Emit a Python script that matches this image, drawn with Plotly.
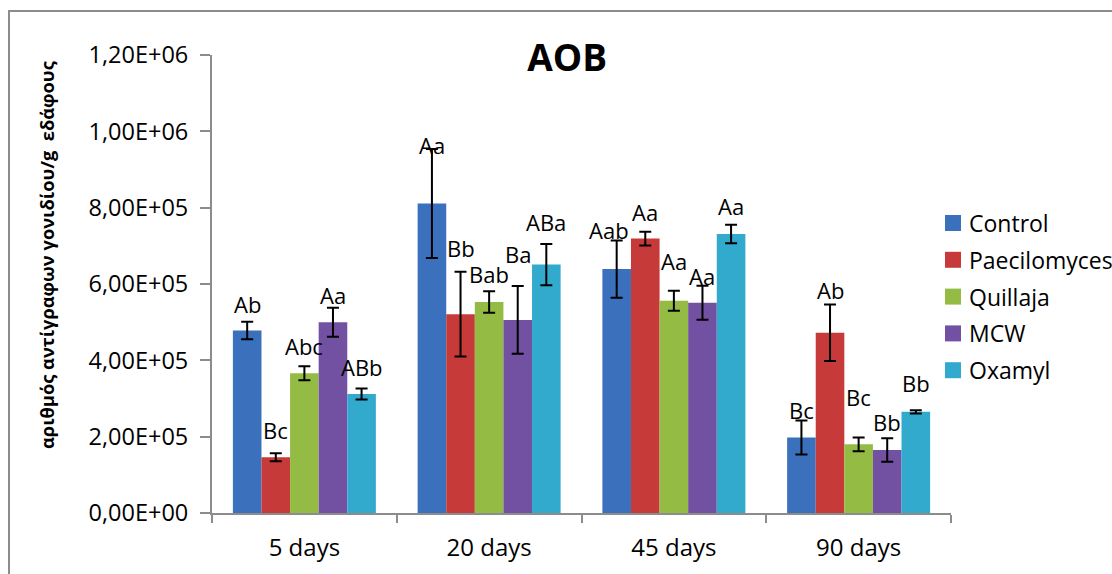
import plotly.graph_objects as go

# ---- data ----
days = ["5 days", "20 days", "45 days", "90 days"]
series_names = ["Control", "Paecilomyces", "Quillaja", "MCW", "Oxamyl"]

control = [4.78e5, 8.11e5, 6.39e5, 1.98e5]
paecilomyces = [1.46e5, 5.21e5, 7.19e5, 4.72e5]
quillaja = [3.66e5, 5.53e5, 5.56e5, 1.80e5]
mcw = [5.00e5, 5.06e5, 5.51e5, 1.65e5]
oxamyl = [3.12e5, 6.51e5, 7.31e5, 2.65e5]

control_err = [2.3e4, 1.43e5, 7.5e4, 4.45e4]
paecilomyces_err = [1.05e4, 1.11e5, 1.8e4, 7.4e4]
quillaja_err = [1.85e4, 2.8e4, 2.6e4, 1.8e4]
mcw_err = [3.8e4, 8.9e4, 4.45e4, 3.1e4]
oxamyl_err = [1.45e4, 5.4e4, 2.4e4, 4.0e3]

control_lbl = ["Ab", "Aa", "Aab", "Bc"]
paecilomyces_lbl = ["Bc", "Bb", "Aa", "Ab"]
quillaja_lbl = ["Abc", "Bab", "Aa", "Bc"]
mcw_lbl = ["Aa", "Ba", "Aa", "Bb"]
oxamyl_lbl = ["ABb", "ABa", "Aa", "Bb"]

y_tickvals = [0, 2e5, 4e5, 6e5, 8e5, 1e6, 1.2e6]
y_ticktext = ["0,00E+00", "2,00E+05", "4,00E+05", "6,00E+05", "8,00E+05", "1,00E+06", "1,20E+06"]

title_text = "AOB"
y_title = "αριθμός αντίγραφων γονιδίου/g  εδάφους"

# ---- styling ----
colors = ["#3A70BC", "#C63B3A", "#94BC44", "#7250A2", "#31AACE"]
# label lift above bar top (px) and horizontal nudge (px), per series per day
label_lift = [
    [27, 58, 39, 27],
    [27, 66, 27, 43],
    [27, 28, 40, 47],
    [27, 66, 27, 28],
    [27, 43, 28, 29],
]
label_nudge = [
    [0, 0, -8, 0],
    [0, 0, 0, 0],
    [0, 0, 0, 0],
    [0, 0, 0, 0],
    [0, 0, 0, 0],
]

values = [control, paecilomyces, quillaja, mcw, oxamyl]
errors = [control_err, paecilomyces_err, quillaja_err, mcw_err, oxamyl_err]
labels = [control_lbl, paecilomyces_lbl, quillaja_lbl, mcw_lbl, oxamyl_lbl]

FONT = "Open Sans"
BARGAP = 0.226
W, H = 1112, 574
ML, MR, MT, MB = 212, 161, 55, 61
PW, PH = W - ML - MR, H - MT - MB


def px_x(px):
    return (px - ML) / PW


def px_y(py):
    return (H - MB - py) / PH


fig = go.Figure()
for i, name in enumerate(series_names):
    fig.add_trace(go.Bar(
        name=name, x=days, y=values[i],
        marker=dict(color=colors[i], line=dict(width=0)),
        error_y=dict(type="data", array=errors[i], visible=True,
                     color="#000000", thickness=2, width=6),
        showlegend=False,
    ))

# data labels
n = len(series_names)
bw = (1 - BARGAP) / n
annotations = []
for i in range(n):
    for j, d in enumerate(days):
        annotations.append(dict(
            x=j + (i - (n - 1) / 2) * bw, y=values[i][j], xref="x", yref="y",
            text=labels[i][j], showarrow=False,
            xanchor="center", yanchor="middle",
            yshift=label_lift[i][j], xshift=label_nudge[i][j],
            font=dict(family=FONT, size=22, color="#000000"),
        ))

# y axis title
annotations.append(dict(
    x=px_x(46), y=px_y(255), xref="paper", yref="paper", text="<b>" + y_title + "</b>",
    showarrow=False, textangle=-90, xanchor="center", yanchor="middle",
    font=dict(family=FONT, size=18.3, color="#000000"),
))

# legend (drawn as swatches + texts)
shapes = [dict(type="rect", xref="paper", yref="paper",
               x0=px_x(9), x1=px_x(W + 50), y0=px_y(H + 50), y1=px_y(11),
               line=dict(color="#8C8C8C", width=2), layer="below")]
leg_top, leg_step = 223, 36.8
for i, name in enumerate(series_names):
    yc = leg_top + i * leg_step
    shapes.append(dict(type="rect", xref="paper", yref="paper",
                       x0=px_x(945), x1=px_x(961), y0=px_y(yc + 8), y1=px_y(yc - 8),
                       fillcolor=colors[i], line=dict(width=0)))
    annotations.append(dict(
        x=px_x(967), y=px_y(yc), xref="paper", yref="paper", text=name,
        showarrow=False, xanchor="left", yanchor="middle",
        font=dict(family=FONT, size=23, color="#000000"),
    ))

fig.update_layout(
    width=W, height=H,
    margin=dict(l=ML, r=MR, t=MT, b=MB, pad=0, autoexpand=False),
    paper_bgcolor="white", plot_bgcolor="white",
    barmode="group", bargap=BARGAP, bargroupgap=0,
    font=dict(family=FONT, color="#000000"),
    title=dict(text="<b>" + title_text + "</b>", x=0.51, xref="container", xanchor="center",
               y=1 - 58 / H, yref="container", yanchor="middle",
               font=dict(family=FONT, size=37, color="#000000")),
    showlegend=False,
    annotations=annotations,
    shapes=shapes,
)

fig.update_xaxes(
    type="category", showline=True, linecolor="#8C8C8C", linewidth=2,
    ticks="outside", tickson="boundaries", ticklen=8, tickcolor="#8C8C8C", tickwidth=2,
    showgrid=False, zeroline=False, ticklabelstandoff=12, automargin=False,
    tickfont=dict(family=FONT, size=24, color="#000000"),
)
fig.update_yaxes(
    range=[0, 1.2e6], tickvals=y_tickvals, ticktext=y_ticktext,
    showline=True, linecolor="#8C8C8C", linewidth=2,
    ticks="outside", ticklen=10, tickcolor="#8C8C8C", tickwidth=2,
    showgrid=False, zeroline=False, ticklabelstandoff=7, automargin=False,
    tickfont=dict(family=FONT, size=23.5, color="#000000"),
)

fig.write_html("out.html", config={"displayModeBar": False},
               post_script="document.body.style.margin='0';")
